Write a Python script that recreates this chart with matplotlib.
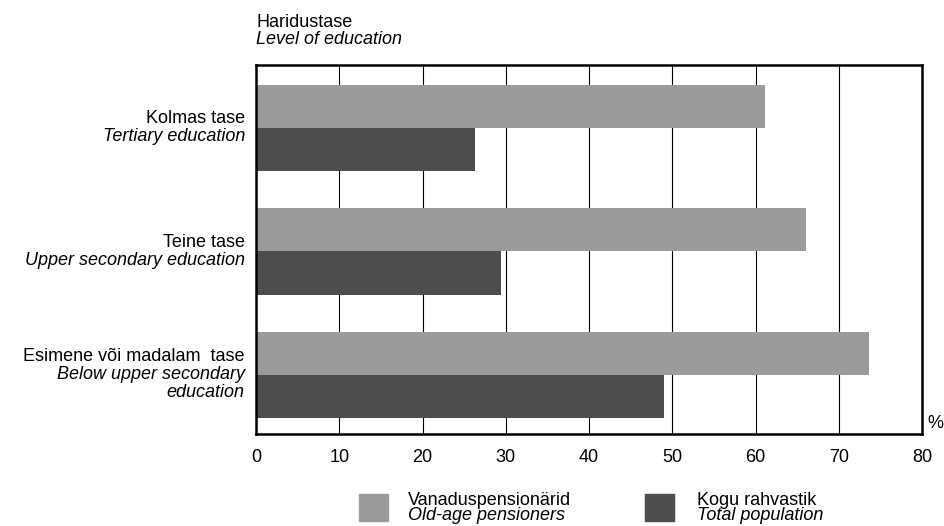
import matplotlib
matplotlib.use("Agg")
import matplotlib.pyplot as plt
from matplotlib.patches import Rectangle
from matplotlib.transforms import blended_transform_factory
import numpy as np

# ---- data ----
categories_et = ["Kolmas tase", "Teine tase", "Esimene või madalam  tase"]
categories_en = ["Tertiary education", "Upper secondary education",
                 "Below upper secondary\neducation"]
pensioners = [61.1, 66.1, 73.6]
total_pop = [26.3, 29.4, 49.0]
series_et = ["Vanaduspensionärid", "Kogu rahvastik"]
series_en = ["Old-age pensioners", "Total population"]
xticks = [0, 10, 20, 30, 40, 50, 60, 70, 80]
title_et = "Haridustase"
title_en = "Level of education"
unit = "%"

colors = ["#9b9b9b", "#4d4d4d"]

plt.rcParams['font.family'] = ['Liberation Sans', 'DejaVu Sans']
FS = 13

W, H = 945, 526
fig = plt.figure(figsize=(W / 100, H / 100), dpi=100)
ax = fig.add_axes([256 / W, 1 - 434 / H, (922 - 256) / W, (434 - 65) / H])

y = np.arange(len(categories_et))
h = 0.35
ax.barh(y - h / 2, pensioners, height=h, color=colors[0], zorder=2)
ax.barh(y + h / 2, total_pop, height=h, color=colors[1], zorder=2)

ax.set_xlim(xticks[0], xticks[-1])
ax.set_ylim(2.48, -0.51)
ax.set_xticks(xticks)
ax.set_xticklabels([str(t) for t in xticks], fontsize=FS)
ax.tick_params(axis='x', length=0, pad=11)
ax.set_yticks([])
ax.grid(axis='x', color='black', linewidth=0.8, zorder=1)
ax.set_axisbelow(True)
for s in ax.spines.values():
    s.set_linewidth(1.8)
    s.set_color('black')

# category labels
trans = blended_transform_factory(ax.transAxes, ax.transData)
pitch = 13.0  # points
for i, (et, en) in enumerate(zip(categories_et, categories_en)):
    L = en.count("\n") + 1
    ax.annotate(et, xy=(0, i), xycoords=trans,
                xytext=(-8, L * pitch / 2), textcoords='offset points',
                ha='right', va='center', fontsize=FS)
    ax.annotate(en, xy=(0, i), xycoords=trans,
                xytext=(-8, -pitch / 2), textcoords='offset points',
                ha='right', va='center', fontsize=FS, style='italic',
                multialignment='right', linespacing=1.05)

# unit
fig.text(935 / W, 1 - 423 / H, unit, ha='center', va='center', fontsize=FS)

# title
fig.text(256 / W, 1 - 27 / H, title_et, ha='left', va='baseline', fontsize=FS)
fig.text(256 / W, 1 - 44.5 / H, title_en, ha='left', va='baseline',
         fontsize=FS, style='italic')

# legend
sq_x = [359, 645]
tx_x = [408, 697]
for k in range(2):
    fig.add_artist(Rectangle((sq_x[k] / W, 1 - 521 / H), 29 / W, 27 / H,
                             transform=fig.transFigure, color=colors[k]))
    fig.text(tx_x[k] / W, 1 - 505 / H, series_et[k], ha='left',
             va='baseline', fontsize=FS)
    fig.text(tx_x[k] / W, 1 - 520.5 / H, series_en[k], ha='left',
             va='baseline', fontsize=FS, style='italic')

fig.savefig("out.png", dpi=100)
